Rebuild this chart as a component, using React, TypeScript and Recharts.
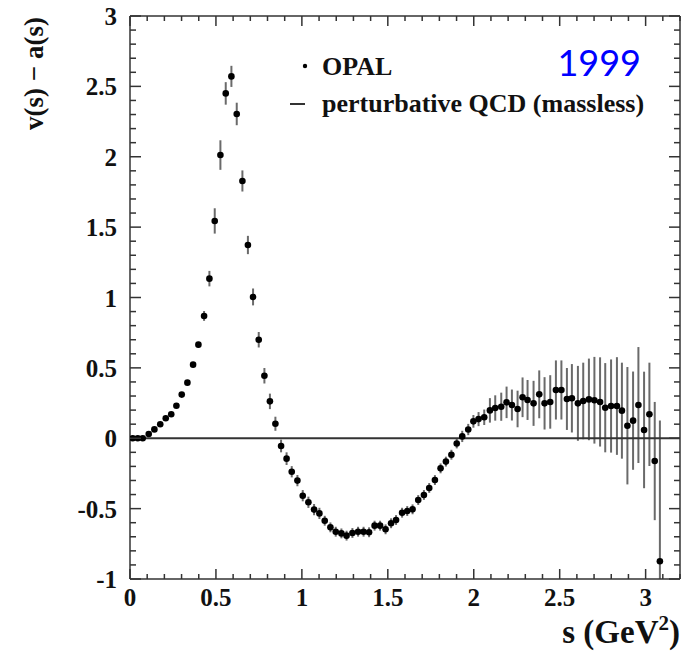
import { ScatterChart, Scatter, XAxis, YAxis, ErrorBar } from 'recharts';

// OPAL 1999, v(s) - a(s) spectral function difference
const sValues = [
  0.016, 0.045, 0.074, 0.109, 0.142, 0.176, 0.208, 0.24, 0.27, 0.301,
  0.334, 0.367, 0.398, 0.431, 0.462, 0.493, 0.526, 0.557, 0.59, 0.621,
  0.654, 0.686, 0.716, 0.749, 0.782, 0.814, 0.846, 0.879, 0.911, 0.941,
  0.974, 1.005, 1.038, 1.071, 1.102, 1.133, 1.166, 1.197, 1.23, 1.26,
  1.294, 1.327, 1.359, 1.391, 1.423, 1.455, 1.487, 1.519, 1.548, 1.583,
  1.613, 1.644, 1.677, 1.71, 1.741, 1.774, 1.807, 1.838, 1.87, 1.901,
  1.933, 1.968, 1.998, 2.028, 2.061, 2.094, 2.125, 2.16, 2.191, 2.222,
  2.255, 2.284, 2.313, 2.348, 2.381, 2.412, 2.445, 2.478, 2.51, 2.542,
  2.571, 2.606, 2.637, 2.67, 2.702, 2.735, 2.765, 2.799, 2.833, 2.862,
  2.894, 2.927, 2.958, 2.991, 3.022, 3.053, 3.083,
];

const vaValues = [
  0.0, 0.0, 0.0, 0.03, 0.063, 0.099, 0.142, 0.17, 0.231, 0.31,
  0.395, 0.523, 0.665, 0.869, 1.134, 1.544, 2.012, 2.45, 2.571, 2.304,
  1.828, 1.373, 1.004, 0.7, 0.444, 0.262, 0.103, -0.055, -0.145, -0.238,
  -0.301, -0.408, -0.455, -0.507, -0.534, -0.586, -0.633, -0.664, -0.676, -0.692,
  -0.673, -0.664, -0.664, -0.668, -0.621, -0.621, -0.647, -0.604, -0.581, -0.529,
  -0.517, -0.505, -0.439, -0.403, -0.353, -0.297, -0.214, -0.166, -0.117, -0.037,
  0.013, 0.062, 0.12, 0.136, 0.149, 0.198, 0.215, 0.224, 0.255, 0.236,
  0.208, 0.291, 0.272, 0.248, 0.312, 0.248, 0.258, 0.343, 0.343, 0.279,
  0.284, 0.248, 0.265, 0.276, 0.27, 0.258, 0.217, 0.229, 0.229, 0.196,
  0.089, 0.125, 0.236, 0.059, 0.17, -0.162, -0.874,
];

// [down, up] for the last point: its bar runs off the bottom of the frame
const vaErrors: (number | number[])[] = [
  0.005, 0.005, 0.005, 0.008, 0.008, 0.01, 0.01, 0.012, 0.012, 0.015,
  0.015, 0.018, 0.02, 0.035, 0.055, 0.09, 0.105, 0.08, 0.075, 0.08,
  0.075, 0.065, 0.06, 0.055, 0.055, 0.055, 0.05, 0.045, 0.045, 0.04,
  0.04, 0.04, 0.04, 0.04, 0.04, 0.035, 0.035, 0.035, 0.035, 0.035,
  0.035, 0.035, 0.035, 0.035, 0.035, 0.035, 0.035, 0.035, 0.035, 0.035,
  0.035, 0.035, 0.035, 0.035, 0.035, 0.035, 0.035, 0.035, 0.035, 0.035,
  0.04, 0.04, 0.045, 0.05, 0.055, 0.087, 0.09, 0.1, 0.112, 0.11,
  0.13, 0.141, 0.142, 0.16, 0.17, 0.186, 0.19, 0.21, 0.21, 0.22,
  0.243, 0.266, 0.272, 0.29, 0.308, 0.317, 0.317, 0.331, 0.347, 0.341,
  0.417, 0.349, 0.412, 0.414, 0.367, 0.42, [0.126, 1.0],
];

// perturbative QCD (massless) prediction
const pqcdS = [0, 3.2];
const pqcdValues = [0, 0];

const X_DOMAIN = [0, 3.2];
const Y_DOMAIN = [-1, 3];
const xTicks = Array.from({ length: 33 }, (_, i) => +(i * 0.1).toFixed(1));
const yTicks = Array.from({ length: 41 }, (_, i) => +(-1 + i * 0.1).toFixed(1));

const opalData = sValues.map((s, i) => ({ s, v: vaValues[i], err: vaErrors[i] }));
const pqcdData = pqcdS.map((s, i) => ({ s, v: pqcdValues[i] }));

const W = 693;
const H = 656;
const MARGIN = { top: 16, right: 13, bottom: 0, left: 0 };
const Y_AXIS_W = 130;
const X_AXIS_H = 77;
const PLOT = {
  left: MARGIN.left + Y_AXIS_W,
  right: W - MARGIN.right,
  top: MARGIN.top,
  bottom: H - MARGIN.bottom - X_AXIS_H,
};

const AXIS = '#333';
const FONT = '"Liberation Serif", "Times New Roman", serif';

const isMajor = (v: number) => Math.abs(v * 2 - Math.round(v * 2)) < 1e-6;

// frame position of a tick value on the top / right edges
const fx = (t: number) => PLOT.left + ((t - X_DOMAIN[0]) / (X_DOMAIN[1] - X_DOMAIN[0])) * (PLOT.right - PLOT.left);
const fy = (t: number) => PLOT.bottom - ((t - Y_DOMAIN[0]) / (Y_DOMAIN[1] - Y_DOMAIN[0])) * (PLOT.bottom - PLOT.top);

const BottomTick = (props: any) => {
  const { x, y, payload } = props;
  const major = isMajor(payload.value);
  return (
    <g>
      <line x1={x} x2={x} y1={y} y2={y - (major ? 10 : 5)} stroke={AXIS} strokeWidth={1.5} />
      {major && (
        <text x={x} y={y + 27} textAnchor="middle" fontFamily={FONT} fontWeight="bold" fontSize={25} fill="#111">
          {String(payload.value)}
        </text>
      )}
    </g>
  );
};

const LeftTick = (props: any) => {
  const { x, y, payload } = props;
  const major = isMajor(payload.value);
  return (
    <g>
      <line x1={x} x2={x + (major ? 11 : 6)} y1={y} y2={y} stroke={AXIS} strokeWidth={1.5} />
      {major && (
        <text x={x - 13} y={y + 9} textAnchor="end" fontFamily={FONT} fontWeight="bold" fontSize={25} fill="#111">
          {String(payload.value)}
        </text>
      )}
    </g>
  );
};

const Dot = (props: any) => <circle cx={props.cx} cy={props.cy} r={3.3} fill="#000" />;
const NoDot = () => <g />;

export default function App() {
  return (
    <div style={{ position: 'absolute', left: 0, top: 0, width: W, height: H, background: '#fff' }}>
      <ScatterChart width={W} height={H} margin={MARGIN}>
        <XAxis
          dataKey="s"
          type="number"
          domain={X_DOMAIN}
          ticks={xTicks}
          interval={0}
          height={X_AXIS_H}
          tickSize={0}
          tickMargin={0}
          tickLine={false}
          tick={<BottomTick />}
          axisLine={{ stroke: AXIS, strokeWidth: 1.5 }}
          allowDataOverflow
        />
        <YAxis
          dataKey="v"
          type="number"
          domain={Y_DOMAIN}
          ticks={yTicks}
          interval={0}
          width={Y_AXIS_W}
          tickSize={0}
          tickMargin={0}
          tickLine={false}
          tick={<LeftTick />}
          axisLine={{ stroke: AXIS, strokeWidth: 1.5 }}
          allowDataOverflow
        />
        <Scatter
          name="perturbative QCD (massless)"
          data={pqcdData}
          line={{ stroke: '#333', strokeWidth: 2 }}
          shape={<NoDot />}
          isAnimationActive={false}
        />
        <Scatter name="OPAL" data={opalData} shape={<Dot />} isAnimationActive={false}>
          <ErrorBar dataKey="err" direction="y" width={0} stroke="#6a6a6a" strokeWidth={2} isAnimationActive={false} />
        </Scatter>

        {/* top and right frame with inward ticks */}
        <line x1={PLOT.left} x2={PLOT.right} y1={PLOT.top} y2={PLOT.top} stroke={AXIS} strokeWidth={1.5} />
        <line x1={PLOT.right} x2={PLOT.right} y1={PLOT.top} y2={PLOT.bottom} stroke={AXIS} strokeWidth={1.5} />
        {xTicks.map((t) => (
          <line
            key={`tx${t}`}
            x1={fx(t)}
            x2={fx(t)}
            y1={PLOT.top}
            y2={PLOT.top + (isMajor(t) ? 10 : 5)}
            stroke={AXIS}
            strokeWidth={1.5}
          />
        ))}
        {yTicks.map((t) => (
          <line
            key={`ty${t}`}
            x1={PLOT.right}
            x2={PLOT.right - (isMajor(t) ? 11 : 6)}
            y1={fy(t)}
            y2={fy(t)}
            stroke={AXIS}
            strokeWidth={1.5}
          />
        ))}

        <text
          transform="translate(43, 17) rotate(-90)"
          textAnchor="end"
          fontFamily={FONT}
          fontWeight="bold"
          fontSize={27}
          fill="#111"
        >
          v(s) − a(s)
        </text>
        <text x={680} y={643} textAnchor="end" fontFamily={FONT} fontWeight="bold" fontSize={33} fill="#111">
          s (GeV
          <tspan dy={-13} fontSize={21}>2</tspan>
          <tspan dy={13}>)</tspan>
        </text>

        <circle cx={305} cy={66} r={2.2} fill="#000" />
        <text x={322} y={75} fontFamily={FONT} fontWeight="bold" fontSize={26} fill="#111">OPAL</text>
        <line x1={290} x2={305} y1={104} y2={104} stroke="#333" strokeWidth={2} />
        <text x={322} y={112} fontFamily={FONT} fontWeight="bold" fontSize={26} fill="#111">
          perturbative QCD (massless)
        </text>
        <text x={641} y={76} textAnchor="end" fontFamily="Lato, sans-serif" fontSize={36} fill="#0000ff">1999</text>
      </ScatterChart>
    </div>
  );
}
